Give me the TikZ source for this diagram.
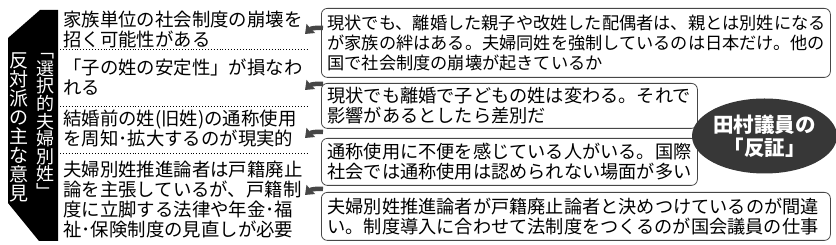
\documentclass[tikz,border=0pt]{standalone}
\usepackage{fontspec}
\setmainfont{Noto Sans CJK JP}
\usetikzlibrary{arrows.meta,positioning,calc,shapes.geometric}
\definecolor{waku}{RGB}{70,70,70}
\definecolor{sumi}{RGB}{55,55,55}
\tikzset{
  iken/.style={anchor=west, align=left, inner sep=0pt, font=\fontsize{18.4}{20}\selectfont},
  hansho/.style={draw=waku, line width=0.8pt, rounded corners=6pt, anchor=north west,
                 align=left, inner xsep=6pt, inner ysep=0pt, font=\fontsize{18.2}{20}\selectfont},
  tate/.style={align=center, text=white, inner sep=0pt},
  kugiri/.style={dotted, line width=0.9pt},
  fatarr/.style={-{Triangle[length=8pt,width=12pt]}, line width=4.5pt, draw=gray!55!black},
}

\begin{document}
\begin{tikzpicture}[x=1pt,y=-1pt]
  \useasboundingbox (0,0) rectangle (836,245);
  % black banner on the left
  \fill[black] (8,38) -- (40,10) -- (58,10) -- (58,241) -- (39,241) -- (8,203) -- cycle;
  \node[tate, font=\fontsize{18}{17.6}\selectfont] (sentaku) at (45,126)
    {﹁\\選\\択\\的\\夫\\婦\\別\\姓\\﹂};
  \node[tate, font=\fontsize{19}{18.9}\selectfont] (hantai) at (19,127.5)
    {反\\対\\派\\の\\主\\な\\意\\見};
  % opinions
  \node[iken] (iA) at (63,29) {家族単位の社会制度の崩壊を\\招く可能性がある};
  \node[iken] (iB) at (63,77) {「子の姓の安定性」が損なわ\\れる};
  \node[iken] (iC) at (63,129) {結婚前の姓(旧姓)の通称使用\\を周知･拡大するのが現実的};
  \node[iken] (iD) at (63,200) {夫婦別姓推進論者は戸籍廃止\\論を主張しているが、戸籍制\\度に立脚する法律や年金･福\\祉･保険制度の見直しが必要};
  \draw[kugiri] (60,49) -- (308,49);
  \draw[kugiri] (60,106) -- (308,106);
  \draw[kugiri] (60,153) -- (308,153);
  % rebuttals
  \node[hansho, text width=497pt, minimum height=69pt, font=\fontsize{17.2}{20}\selectfont] (bA) at (321,8)
    {現状でも、離婚した親子や改姓した配偶者は、親とは別姓になる\\が家族の絆はある。夫婦同姓を強制しているのは日本だけ。他の\\国で社会制度の崩壊が起きているか};
  \node[hansho, text width=364pt, minimum height=45pt] (bB) at (321,83)
    {現状でも離婚で子どもの姓は変わる。それで\\影響があるとしたら差別だ};
  \node[hansho, text width=364pt, minimum height=47pt] (bC) at (321,138)
    {通称使用に不便を感じている人がいる。国際\\社会では通称使用は認められない場面が多い};
  \node[hansho, text width=497pt, minimum height=48pt] (bD) at (321,192)
    {夫婦別姓推進論者が戸籍廃止論者と決めつけているのが間違\\い。制度導入に合わせて法制度をつくるのが国会議員の仕事};
  \node[ellipse, fill=sumi, text=white, minimum width=125pt, minimum height=75pt, inner sep=0pt,
        align=center, font=\bfseries\fontsize{20.5}{23}\selectfont] (hansho) at (764.5,136)
    {田村議員の\\「反証」};
  % arrows
  \coordinate (tA) at (305,34);
  \coordinate (tB) at (305,90);
  \coordinate (tC) at (305,138);
  \coordinate (tD) at (305,195);
  \draw[fatarr] ($(tA -| bA.west)+(2,-6)$) to[bend right=25] (tA);
  \draw[fatarr] ($(tB -| bB.west)+(2,-6)$) to[bend right=25] (tB);
  \draw[fatarr] ($(tC -| bC.west)+(2,-6)$) to[bend right=25] (tC);
  \draw[fatarr] ($(tD -| bD.west)+(2,-6)$) to[bend right=25] (tD);
\end{tikzpicture}
\end{document}
